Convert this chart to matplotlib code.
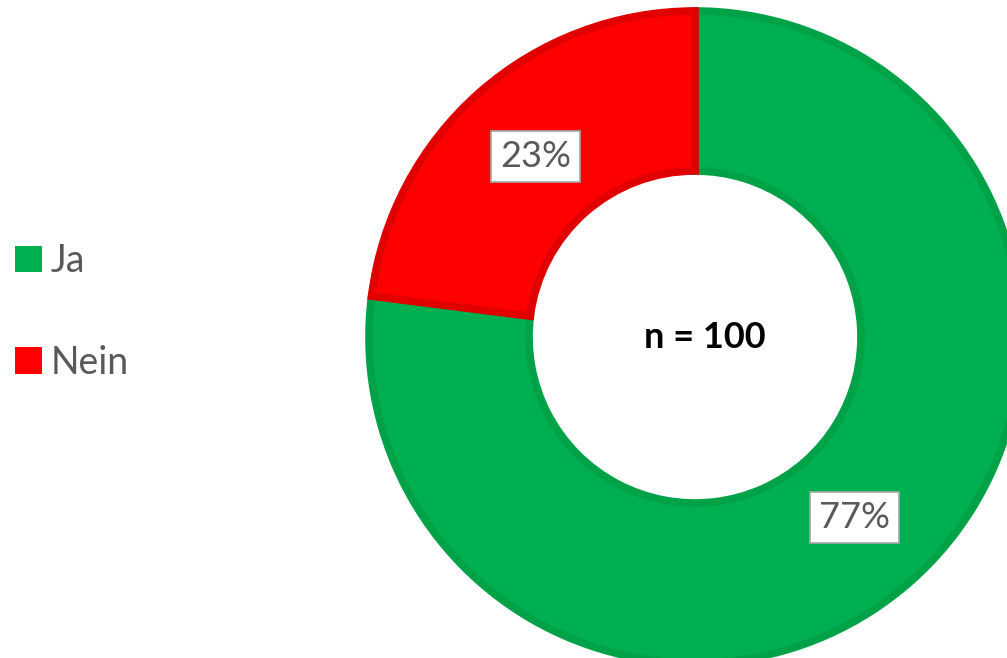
import matplotlib.pyplot as plt
from matplotlib.patches import Patch

labels = ['Ja', 'Nein']
values = [77, 23]
colors = ['#00B050', '#FF0000']
edges = ['#00A247', '#E00000']
center_text = 'n = 100'

plt.rcParams['font.family'] = ['Lato', 'DejaVu Sans']

fig = plt.figure(figsize=(10.07, 6.58), dpi=100)
ax = fig.add_axes([0, 0, 1, 1])

wedges, texts, autotexts = ax.pie(
    values, colors=colors, startangle=90, counterclock=False,
    center=(695, 321), radius=326, autopct='%d%%', pctdistance=0.74,
    wedgeprops=dict(width=160, linewidth=5.5), frame=True)
for w, ec in zip(wedges, edges):
    w.set_edgecolor(ec)
for t in autotexts:
    t.set_fontsize(26)
    t.set_color('#595959')
    t.set_bbox(dict(boxstyle='square,pad=0.25', facecolor='white', edgecolor='#A6A6A6', linewidth=1.2))
ax.set_xlim(0, 1007)
ax.set_ylim(0, 658)
ax.set_aspect('equal')
ax.axis('off')

ax.text(705, 320, center_text, ha='center', va='center', fontsize=26, fontweight='bold', color='black')

handles = [Patch(facecolor=c, edgecolor='none') for c in colors]
ax.legend(handles, labels, loc='center left', bbox_to_anchor=(-0.019, 0.526), frameon=False,
          fontsize=27, labelcolor='#595959', handlelength=0.72, handleheight=0.72,
          handletextpad=0.25, labelspacing=1.75)

fig.savefig('out.png', dpi=100)
